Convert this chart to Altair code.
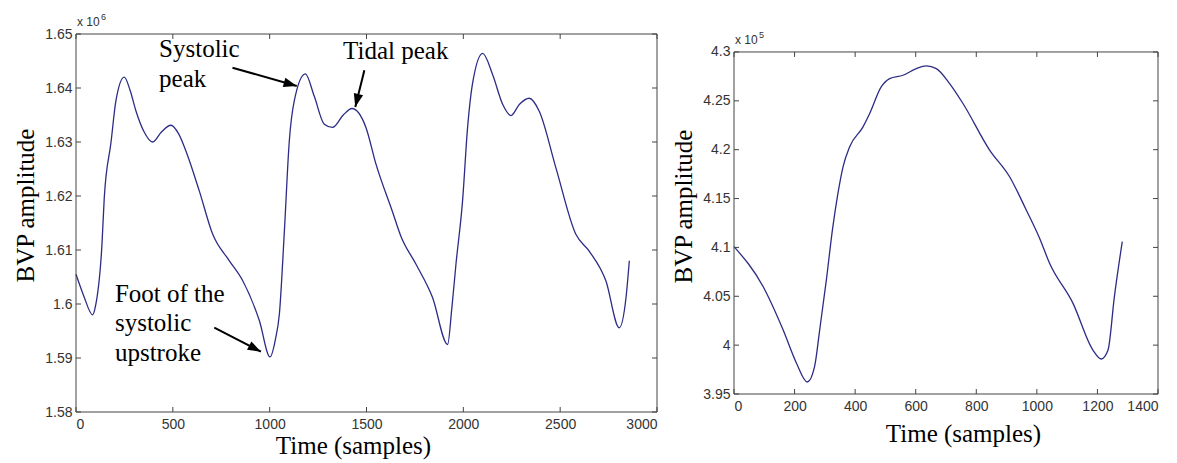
import math
import altair as alt
import pandas as pd

# ---------------- data: left panel (values x 10^6) ----------------
left_t = [0, 40, 86, 100, 134, 146, 181, 206, 249, 280, 310, 350, 396, 440, 490, 530, 568,
          637, 706, 792, 861, 947, 1002, 1030, 1050, 1076, 1101, 1127, 1184, 1230, 1282,
          1325, 1380, 1425, 1497, 1549, 1635, 1678, 1755, 1841, 1919, 1940, 1962, 1996,
          2022, 2047, 2100, 2151, 2203, 2246, 2290, 2340, 2392, 2478, 2581, 2650, 2736,
          2805, 2840, 2857]
left_v = [1.6055, 1.6015, 1.5980, 1.5995, 1.6110, 1.6197, 1.6300, 1.6376, 1.6420, 1.6395,
          1.6357, 1.6320, 1.6300, 1.6318, 1.6331, 1.6315, 1.6283, 1.6209, 1.6129, 1.6080,
          1.6043, 1.5969, 1.5902, 1.5935, 1.5981, 1.6135, 1.6300, 1.6376, 1.6426, 1.6385,
          1.6333, 1.6327, 1.6350, 1.6362, 1.6327, 1.6259, 1.6170, 1.6125, 1.6074, 1.6012,
          1.5925, 1.5990, 1.6074, 1.6191, 1.6327, 1.6407, 1.6464, 1.6425, 1.6370, 1.6349,
          1.6370, 1.6381, 1.6357, 1.6252, 1.6129, 1.6098, 1.6043, 1.5956, 1.6012, 1.6080]
left_xticks = [0, 500, 1000, 1500, 2000, 2500, 3000]
left_yticks = [1.58, 1.59, 1.60, 1.61, 1.62, 1.63, 1.64, 1.65]

# ---------------- data: right panel (values x 10^5) ----------------
right_t = [0, 96, 162, 206, 242, 266, 283, 305, 325, 343, 360, 382, 426, 448, 486, 514,
           558, 602, 635, 668, 712, 756, 844, 910, 965, 1009, 1042, 1119, 1185, 1213,
           1235, 1256, 1282]
right_v = [4.1008, 4.0600, 4.0157, 3.9817, 3.9623, 3.9780, 4.0157, 4.0668, 4.1179, 4.1550,
           4.1825, 4.2030, 4.2234, 4.2370, 4.2642, 4.2728, 4.2762, 4.2830, 4.2857, 4.2830,
           4.2677, 4.2473, 4.1996, 4.1723, 4.1383, 4.1094, 4.0838, 4.0430, 3.9950, 3.9858,
           3.9950, 4.0497, 4.1060]
right_xticks = [0, 200, 400, 600, 800, 1000, 1200, 1400]
right_yticks = [3.95, 4.00, 4.05, 4.10, 4.15, 4.20, 4.25, 4.30]

# ---------------- annotations (left panel, data units) ----------------
label_text = ["Systolic", "peak", "Tidal peak", "Foot of the", "systolic", "upstroke"]
label_t = [429, 429, 1379, 201, 201, 201]
label_v = [1.64574, 1.64019, 1.64546, 1.60043, 1.59500, 1.58944]

arrow_t0 = [808, 1489, 714]
arrow_v0 = [1.64376, 1.64328, 1.59561]
arrow_t1 = [1140, 1442, 955]
arrow_v1 = [1.64037, 1.63648, 1.59117]

LINE = "#2c2c86"
FRAME = "#444444"
SERIF = "Liberation Serif"
SANS = "Liberation Sans"
ARROW_PATH = "M0,0L0.36,1L-0.36,1Z"


def axes(xt, yt, title_x, title_y, title_pad_x):
    xa = alt.Axis(values=xt, format="d", title="Time (samples)", ticks=False, domain=False,
                  grid=False, labelFont=SANS, labelFontSize=14, labelColor="#333333",
                  labelPadding=5, titleFont=SERIF, titleFontSize=25, titleFontWeight="normal",
                  titleColor="#000000", titlePadding=title_pad_x, titleX=title_x)
    ya = alt.Axis(values=yt, format=".2~f", title="BVP amplitude", ticks=False, domain=False,
                  grid=False, labelFont=SANS, labelFontSize=14, labelColor="#333333",
                  labelPadding=4, titleFont=SERIF, titleFontSize=25, titleFontWeight="normal",
                  titleColor="#000000", titlePadding=6, titleY=title_y)
    return xa, ya


def panel(t, v, xdom, ydom, xt, yt, W, H, exp, xa, ya):
    """Frame box drawn from the top tick value (yt[-1]) down to the plot bottom."""
    xs = alt.Scale(domain=xdom, nice=False, zero=False)
    ys = alt.Scale(domain=ydom, nice=False, zero=False)
    ytop = yt[-1]
    df = pd.DataFrame({"t": t, "v": v})
    line = alt.Chart(df).mark_line(color=LINE, strokeWidth=1.3, interpolate="monotone").encode(
        x=alt.X("t:Q", scale=xs, axis=xa),
        y=alt.Y("v:Q", scale=ys, axis=ya),
    )
    xtd = pd.DataFrame({"t": xt})
    ytd = pd.DataFrame({"v": yt})
    one = pd.DataFrame({"a": [0]})
    # frame
    f_top = alt.Chart(one).mark_rule(color=FRAME).encode(
        y=alt.datum(ytop, scale=ys), x=alt.value(0), x2=alt.value(W))
    f_bot = alt.Chart(one).mark_rule(color=FRAME).encode(
        y=alt.value(H), x=alt.value(0), x2=alt.value(W))
    f_left = alt.Chart(one).mark_rule(color=FRAME).encode(
        x=alt.value(0), y=alt.datum(ytop, scale=ys), y2=alt.value(H))
    f_right = alt.Chart(one).mark_rule(color=FRAME).encode(
        x=alt.value(W), y=alt.datum(ytop, scale=ys), y2=alt.value(H))
    # inward ticks
    tick_b = alt.Chart(xtd).mark_rule(color=FRAME).encode(
        x=alt.X("t:Q", scale=xs, axis=xa), y=alt.value(H), y2=alt.value(H - 5))
    tick_t = alt.Chart(xtd).mark_rule(color=FRAME, y2Offset=5).encode(
        x=alt.X("t:Q", scale=xs, axis=xa), y=alt.datum(ytop, scale=ys), y2=alt.datum(ytop))
    tick_l = alt.Chart(ytd).mark_rule(color=FRAME).encode(
        y=alt.Y("v:Q", scale=ys, axis=ya), x=alt.value(0), x2=alt.value(5))
    tick_r = alt.Chart(ytd).mark_rule(color=FRAME).encode(
        y=alt.Y("v:Q", scale=ys, axis=ya), x=alt.value(W), x2=alt.value(W - 5))
    e1 = alt.Chart(one).mark_text(font=SANS, fontSize=12, align="left", baseline="alphabetic",
                                  color="#333333", dy=-8).encode(
        x=alt.value(1), y=alt.datum(ytop, scale=ys), text=alt.value("x 10"))
    e2 = alt.Chart(one).mark_text(font=SANS, fontSize=9, align="left", baseline="alphabetic",
                                  color="#333333", dy=-14).encode(
        x=alt.value(25), y=alt.datum(ytop, scale=ys), text=alt.value(exp))
    layers = [line, f_top, f_bot, f_left, f_right, tick_b, tick_t, tick_l, tick_r, e1, e2]
    return layers, xs, ys


W1, H1 = 581, 378
W2, H2 = 424, 360

lxa, lya = axes(left_xticks, left_yticks, 277, 171, 2)
l_layers, lxs, lys = panel(left_t, left_v, [0, 3000], [1.58, 1.65], left_xticks, left_yticks,
                           W1, H1, "6", lxa, lya)

# annotations
lab = pd.DataFrame({"t": label_t, "v": label_v, "txt": label_text})
labels = alt.Chart(lab).mark_text(font=SERIF, fontSize=25, align="left", baseline="alphabetic",
                                  color="#000000").encode(
    x=alt.X("t:Q", scale=lxs, axis=lxa), y=alt.Y("v:Q", scale=lys, axis=lya), text="txt:N")

angles = []
for a, b, c, d in zip(arrow_t0, arrow_v0, arrow_t1, arrow_v1):
    dx = (c - a) * W1 / 3000.0
    dy = -(d - b) * H1 / 0.07
    angles.append(math.degrees(math.atan2(dx, -dy)) % 360)
arr = pd.DataFrame({"t": arrow_t0, "v": arrow_v0, "t2": arrow_t1, "v2": arrow_v1, "ang": angles})
shafts = alt.Chart(arr).mark_rule(color="#000000", strokeWidth=2).encode(
    x=alt.X("t:Q", scale=lxs, axis=lxa), y=alt.Y("v:Q", scale=lys, axis=lya),
    x2="t2:Q", y2="v2:Q")
heads = alt.Chart(arr).mark_point(shape=ARROW_PATH, filled=True, color="#000000", size=700,
                                  opacity=1, strokeWidth=0).encode(
    x=alt.X("t2:Q", scale=lxs, axis=lxa), y=alt.Y("v2:Q", scale=lys, axis=lya),
    angle=alt.Angle("ang:Q", scale=None))

left = alt.layer(*l_layers, labels, shafts, heads).properties(width=W1, height=H1)

# right panel: the plot area starts level with the left one; its scale top is
# raised so that the framed box (3.95 .. 4.3) sits lower, as in the original
rxa, rya = axes(right_xticks, right_yticks, 229, 172, 8)
r_layers, rxs, rys = panel(right_t, right_v, [0, 1400], [3.95, 4.3184], right_xticks,
                           right_yticks, W2, H2, "5", rxa, rya)
right = alt.layer(*r_layers).properties(width=W2, height=H2)

chart = alt.hconcat(left, right, spacing=13).configure_view(stroke="transparent", strokeWidth=0)

chart.save("out.html", embed_options={"renderer": "svg", "actions": False})
